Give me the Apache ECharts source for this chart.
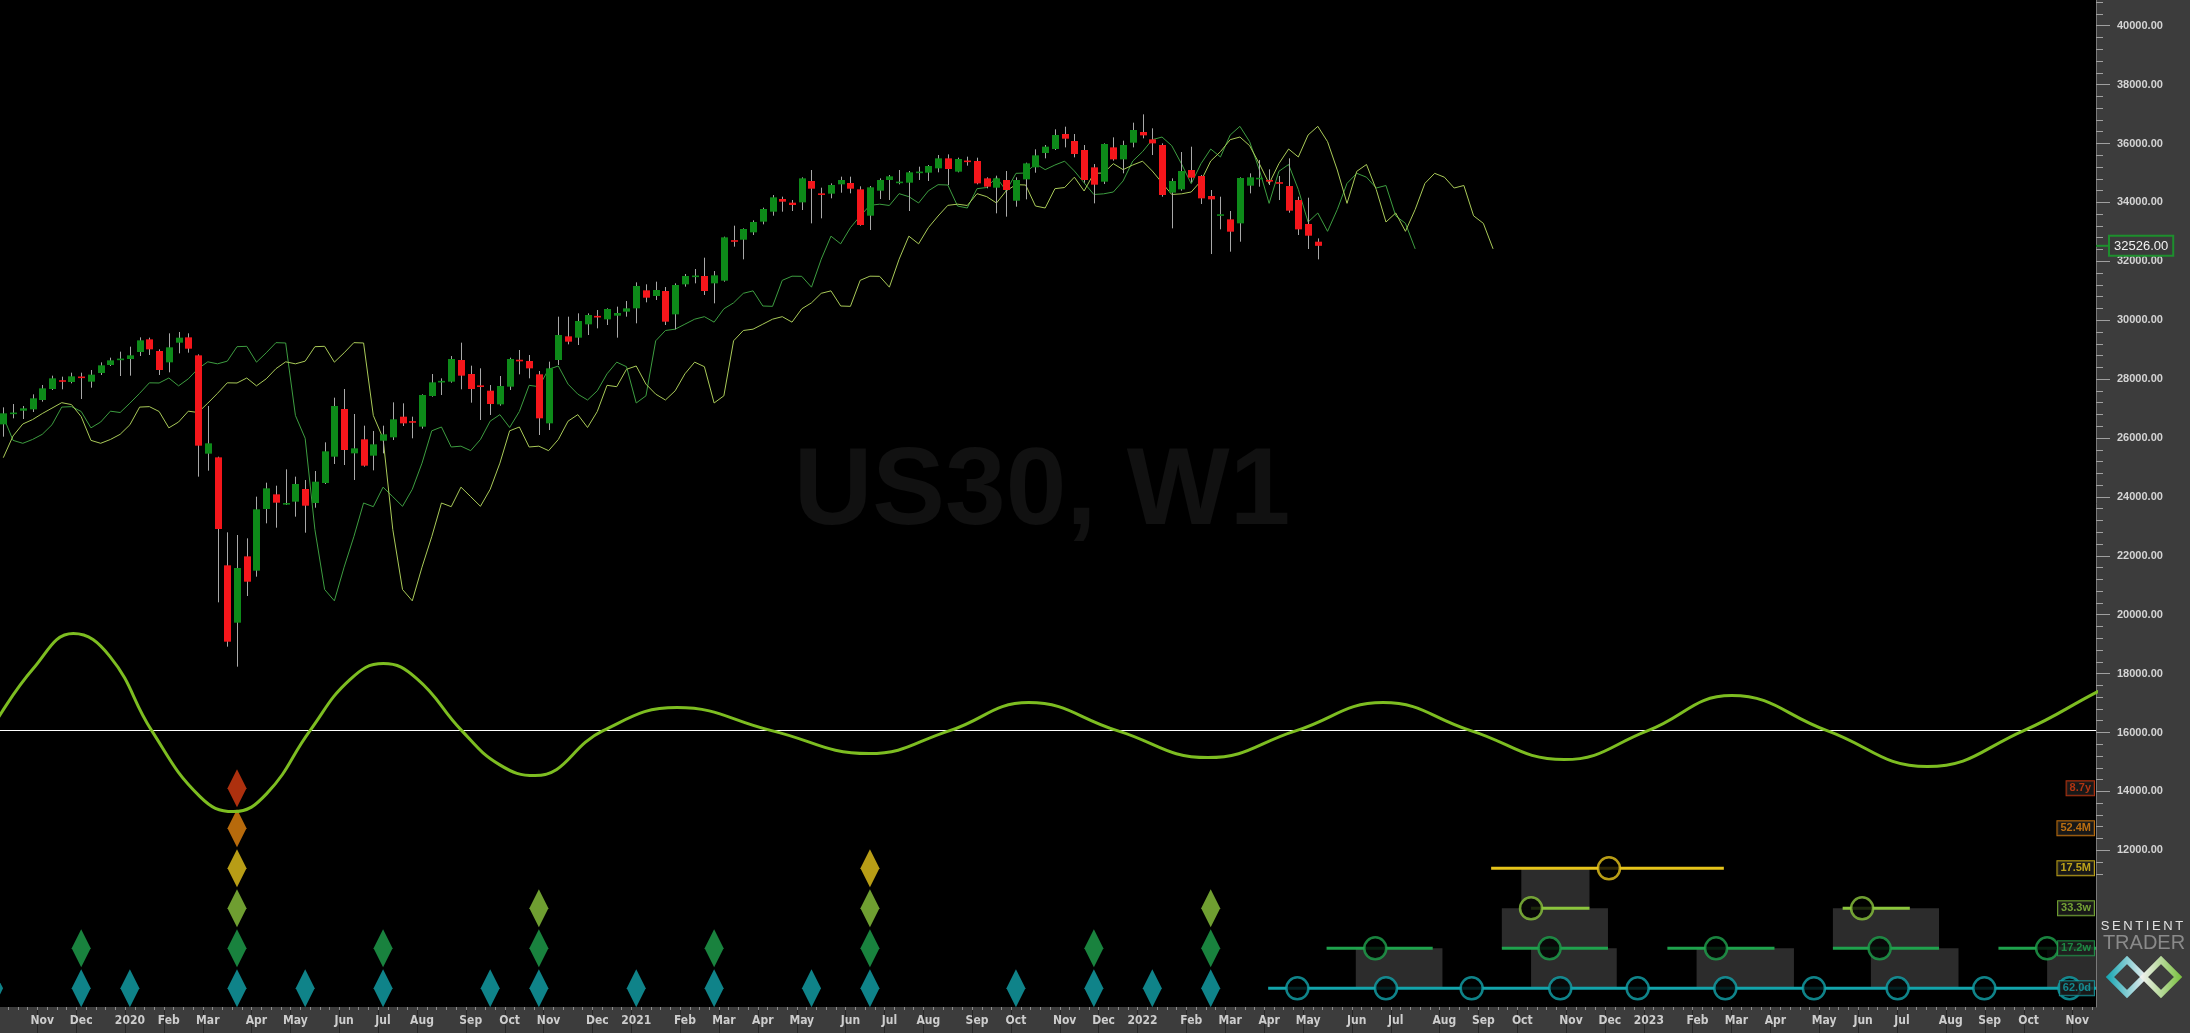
<!DOCTYPE html>
<html><head><meta charset="utf-8">
<script src="https://cdn.jsdelivr.net/npm/echarts@6/dist/echarts.min.js"></script>
<style>html,body{margin:0;padding:0;background:#3c3c3c;overflow:hidden}#c{width:2190px;height:1033px}</style>
</head><body><div id="c"></div>
<script>
// ---------- DATA ----------
// weekly bars, week index 0 = week of 2019-10-06
const tickWeeks = [4,8,13,17,21,26,30,35,39,43,48,52,56,61,65,70,74,78,82,87,91,95,100,104,109,113,117,122,126,130,134,139,143,148,152,156,161,165,169,174,178,182,187,191,195,200,204,208,213];
const tickLabels = ['Nov','Dec','2020','Feb','Mar','Apr','May','Jun','Jul','Aug','Sep','Oct','Nov','Dec','2021','Feb','Mar','Apr','May','Jun','Jul','Aug','Sep','Oct','Nov','Dec','2022','Feb','Mar','Apr','May','Jun','Jul','Aug','Sep','Oct','Nov','Dec','2023','Feb','Mar','Apr','May','Jun','Jul','Aug','Sep','Oct','Nov'];
const priceLabels = [12000,14000,16000,18000,20000,22000,24000,26000,28000,30000,32000,34000,36000,38000,40000];
const lastPrice = 32526;

const open = [26464,26830,26928,26973,27290,27664,27958,27902,28072,27913,
28207,28479,28660,28683,28920,29350,28954,28569,29237,29418,
28807,25468,25343,21676,19729,21981,21495,23589,24087,23759,
23838,24268,23793,24472,25366,26985,25479,25955,25400,25909,
26023,26724,26550,26385,27426,27890,27913,28649,28173,27770,
27607,27143,27743,28640,28614,28162,26498,28648,29452,29407,
29860,30130,30029,30154,30290,30403,31014,30822,30991,30199,
31218,31480,31501,31252,31342,32700,32734,32984,33346,33685,
34115,33991,34002,34727,34290,34297,34614,34659,34444,33549,
34398,34761,34670,34670,35010,35010,35157,35496,35044,35405,
35406,34817,34500,34761,34058,34783,35190,35677,35813,36322,
36085,35779,35190,34704,35869,35462,36028,36390,36141,35949,
34330,34443,35100,34896,34217,33560,33425,33289,34568,34800,
34740,34670,34556,34081,33266,32666];
const high = [27041,27154,27087,27483,27800,28117,28083,28218,28218,28309,
28569,28728,28932,29101,29418,29407,29011,29554,29600,29554,
28841,27087,25366,22797,22706,22593,24008,24483,24381,24936,
24687,24574,24879,25853,27370,27664,26815,26419,26238,26419,
27211,27177,26724,27483,28173,28026,28784,29237,28456,28366,
27800,28105,28727,28988,28818,28275,28592,30120,30120,30233,
30233,30346,30403,30460,30652,31286,31218,31308,31127,31252,
31569,31738,32123,31670,32836,33210,33119,33391,33821,34251,
34195,34082,34851,35100,34500,34647,34874,34874,34546,34557,
34817,34930,35100,35066,35213,35270,35610,35632,35519,35553,
35519,34851,34908,35066,34851,35349,35802,35949,36481,36571,
36322,35949,35303,36005,36209,36096,36707,36990,36515,36005,
34817,35711,35892,34930,34421,34194,33708,34851,34987,35439,
35122,34896,35496,34194,34160,32779];
const low = [26045,26668,26645,26883,27234,27630,27653,27856,27324,27709,
28139,28445,28105,28117,28784,28818,28139,28230,28875,28898,
24687,24891,20420,18914,18235,20635,21291,23102,22955,23725,
23329,22785,23634,24438,25117,25083,24574,25027,24902,25479,
25932,26408,25989,26317,27404,27460,27879,27653,27200,26611,
26781,27098,27630,28162,28026,26102,26271,28479,29180,29158,
29497,29724,29837,29407,30120,29894,30607,30686,29837,29690,
31139,31252,30856,30573,31308,32497,32067,32893,33255,33549,
33685,33708,33742,33289,33459,34138,34330,34308,33210,33063,
34115,34082,34614,33708,34761,34727,35021,34591,35021,35247,
34614,34478,33629,33516,33855,34104,35009,35496,35779,35869,
35530,34670,33968,34624,35417,34987,35869,36175,35609,34194,
33119,34398,34681,33945,32247,33085,32327,32666,34307,34534,
34590,34081,33651,32893,32417,32066];
const close = [26838,26845,27007,27347,27686,28026,27913,28094,28050,28151,
28468,28637,28680,28807,29316,29011,28309,29079,29407,29033,
25740,25819,22910,19084,21585,21121,23578,24291,23804,23770,
24438,23702,24517,25547,27087,25592,25649,25060,25785,26125,
26634,26498,26540,27460,27890,27935,28683,28117,27664,27750,
27155,27766,28682,28620,28365,26668,28365,29497,29271,29973,
30176,30110,30380,30244,30403,31161,30765,31025,29950,31195,
31501,31500,30991,31523,32814,32680,33097,33334,33776,34172,
34025,33912,34817,34466,34270,34591,34761,34466,33233,34512,
34761,34885,34690,35021,35030,35236,35496,35134,35474,35385,
34647,34534,34817,34421,34760,35326,35598,35892,36288,36164,
35643,34760,34602,35983,35462,35949,36458,36277,36005,34251,
34726,35066,34839,34138,34104,33580,33006,34828,34851,34820,
34730,34650,33719,33085,32870,32526];

// FLD lines (median price displaced forward); leading values come from bars before the window
const fastLead = [26725,25920,25820,25950,26125,26450,27050,27065,26900,26345];
const slowLead = [25332,26070,26475,26625,26830,27015,27200,27135,26725,25920,25820,25950,26125,26450,27050,27065,26900,26345];
const medianPrice = [26543,26911,26866,27183,27517,27874,27868,28037,27771,28009,
28354,28587,28519,28609,29101,29113,28575,28892,29238,29226,
26764,25989,22893,20856,20471,21614,22650,23793,23668,24331,
24008,23680,24257,25146,26244,26374,25695,25723,25570,25949,
26572,26793,26357,26900,27789,27743,28332,28445,27828,27489,
27291,27602,28179,28575,28422,27189,27432,29300,29650,29696,
29865,30035,30120,29934,30386,30590,30913,30997,30482,30471,
31354,31495,31490,31122,32072,32854,32593,33142,33538,33900,
33940,33895,34297,34195,33980,34393,34602,34591,33878,33810,
34466,34506,34857,34387,34987,34999,35316,35112,35270,35400,
35067,34665,34269,34291,34353,34727,35406,35723,36130,36220,
35926,35310,34636,35315,35813,35542,36288,36583,36062,35100,
33968,35055,35287,34438,33334,33640,33018,33759,34647,34987,
34856,34489,34574,33544,33289,32423];

// composite cycle wave (week index, amplitude)
const oscWeek = [-1,3.08,7.19,10.96,15.24,20.2,23.62,27.05,31.5,35.6,39.03,42.46,47.08,50.95,54.6,61.6,69.2,78.9,88.9,97.2,105.3,114.4,123.7,132.8,141.7,150.7,160.3,168.9,177.5,187.3,197.6,207.5,214.9,216];
const oscAmp  = [5,62,97,74,0,-66,-81,-63,0,51,67,52,0,-34,-45,0,23,0,-23,0,28,0,-27,0,28,0,-29,0,35,0,-36,0,38,43];

// cycle rows: 0 = 62.0d ... 5 = 8.7y
const rowNames = ['62.0d','17.2w','33.3w','17.5M','52.4M','8.7y'];
const rowDiamonds = [
  [-1,8,13,24,31,39,50,55,65,73,83,89,104,112,118,124],
  [8,24,39,55,73,89,112,124],
  [24,55,89,124],
  [24,89],
  [24],
  [24]
];
const rowCircles = [
  [132.9,142.0,150.8,159.9,167.85,176.85,185.95,194.55,203.45,212.2],
  [140.9,158.8,175.9,192.7,209.9],
  [156.9,190.9],
  [164.9],
  [],[]
];
const rowSpans = [
  [[129.9,216]],
  [[135.9,146.8],[153.9,164.8],[170.9,181.9],[187.9,198.8],[204.9,216]],
  [[156.9,162.9],[188.9,195.8]],
  [[152.8,176.7]],
  [],[]
];
const rowZones = [
  [],
  [[138.9,147.8],[156.9,165.7],[173.9,183.9],[191.8,200.8],[209.9,216]],
  [[153.9,164.8],[187.9,198.8]],
  [[155.9,162.9]],
  [],[]
];

// ---------- STYLE ----------
const rowColors = ['#13a4ab','#1fa24d','#8bc53d','#e6c41b','#e5850f','#d83c12'];
const upColor = '#0d8a19', downColor = '#f5161b', wickColor = '#a8a8a8';
const fastColor = '#3d9d40', slowColor = '#a9ca58', waveColor = '#7dbd21';

const xMin = -0.34, xMax = 214.92;
const pMin = 6679, pMax = 40873;
const oMin = -276.4, oMax = 730.6;
const rMin = -0.4675, rMax = 24.7075;

const labelMap = {};
tickWeeks.forEach((w,k)=>{labelMap[w]=tickLabels[k];});
const weekEdges = [];
for (let k = 0; k <= 216; k++) weekEdges.push(k - 0.5);
const minorTicks = [];
for (let v = 11200; v <= 40800; v += 400) minorTicks.push(v);

const candleData = open.map((o,i)=>[i,o,close[i],low[i],high[i]]);
const fldFast = fastLead.concat(medianPrice).map((v,i)=>[i,v]);
const fldSlow = slowLead.concat(medianPrice).map((v,i)=>[i,v]);
const waveData = oscWeek.map((w,k)=>[w,oscAmp[k]]);

const zoneData = [], spanData = [], circleData = [], diamondData = [], rowLabelData = [];
rowZones.forEach((list,r)=>list.forEach(z=>zoneData.push([z[0],z[1],r])));
rowSpans.forEach((list,r)=>list.forEach(s=>spanData.push([s[0],s[1],r])));
rowCircles.forEach((list,r)=>list.forEach(x=>circleData.push({value:[x,r],itemStyle:{borderColor:rowColors[r]}})));
rowDiamonds.forEach((list,r)=>list.forEach(x=>diamondData.push({value:[x,r],itemStyle:{color:rowColors[r]}})));
rowNames.forEach((n,r)=>rowLabelData.push({value:[xMax,r],label:{formatter:n,color:rowColors[r],borderColor:rowColors[r]}}));

function renderCandle(params, api){
  const i = api.value(0), o = api.value(1), c = api.value(2), l = api.value(3), h = api.value(4);
  const pt = api.coord([i, Math.max(o,c)]), pb = api.coord([i, Math.min(o,c)]);
  const ph = api.coord([i, h]), pl = api.coord([i, l]);
  const bw = 7;
  const xc = Math.round(pt[0]) + 0.5;
  let y0 = pt[1], bh = pb[1] - pt[1];
  if (bh < 1.6){ y0 = (pt[1]+pb[1])/2 - 0.8; bh = 1.6; }
  return {type:'group', children:[
    {type:'line', shape:{x1:xc,y1:ph[1],x2:xc,y2:pl[1]}, style:{stroke:wickColor,lineWidth:1}},
    {type:'rect', shape:{x:xc-bw/2,y:y0,width:bw,height:bh}, style:{fill: c>=o?upColor:downColor}}
  ]};
}
function renderZone(params, api){
  const a = api.coord([api.value(0), api.value(2)]);
  const b = api.coord([api.value(1), api.value(2)-1]);
  return {type:'rect', shape:{x:a[0],y:a[1],width:b[0]-a[0],height:b[1]-a[1]}, style:{fill:'#2c2c2c'}};
}
function renderSpan(params, api){
  const r = api.value(2);
  const a = api.coord([api.value(0), r]);
  const b = api.coord([api.value(1), r]);
  return {type:'line', shape:{x1:a[0],y1:a[1],x2:b[0],y2:b[1]}, style:{stroke:rowColors[r],lineWidth:3}};
}

const noZero = {onZero:false};
const chart = echarts.init(document.getElementById('c'), null, {renderer:'canvas'});
chart.setOption({
  animation:false,
  backgroundColor:'#3c3c3c',
  grid:{left:0, top:0, width:2096, height:1007, show:true, backgroundColor:'#000', borderWidth:0},
  xAxis:[
    {type:'value', min:xMin, max:xMax, position:'bottom', splitLine:{show:false}, axisLine:{show:false, onZero:false},
     axisTick:{show:true, length:26, lineStyle:{color:'#262626',width:1}, customValues: tickWeeks.map(w=>w-0.5)},
     axisLabel:{show:true, customValues: tickWeeks, formatter:(v)=>labelMap[Math.round(v)]||'', color:'#cdcdcd', fontSize:12, fontWeight:'bold',
       fontFamily:'"Liberation Sans Narrow","Arial Narrow","DejaVu Sans Condensed",sans-serif', margin:8}},
    {type:'value', min:xMin, max:xMax, position:'bottom', splitLine:{show:false}, axisLine:{show:false, onZero:false}, axisLabel:{show:false},
     axisTick:{show:true, length:3, lineStyle:{color:'#8c8c8c'}, customValues: weekEdges}}
  ],
  yAxis:[
    {type:'value', position:'right', min:pMin, max:pMax, splitLine:{show:false},
     axisLine:{show:true, onZero:false, lineStyle:{color:'#7a7a7a'}},
     axisTick:{show:true, length:14, lineStyle:{color:'#a0a0a0'}, customValues: priceLabels},
     axisLabel:{show:true, customValues: priceLabels, formatter:(v)=>Number(v).toFixed(2), color:'#d4d4d4', fontSize:11, fontWeight:'bold', fontFamily:'"Liberation Sans",Arial,sans-serif', margin:21}},
    {type:'value', position:'right', min:pMin, max:pMax, splitLine:{show:false}, axisLine:{show:false, onZero:false}, axisLabel:{show:false},
     axisTick:{show:true, length:7, lineStyle:{color:'#a0a0a0'}, customValues: minorTicks}},
    {type:'value', position:'right', show:false, min:oMin, max:oMax, axisLine:noZero},
    {type:'value', position:'right', show:false, min:rMin, max:rMax, axisLine:noZero}
  ],
  graphic:[
    {type:'text', x:1042, y:494, z:1, silent:true, style:{text:'US30, W1', font:'bold 109px "Liberation Sans", Arial, sans-serif', fill:'#111111', align:'center', verticalAlign:'middle'}},
    {type:'text', x:2142, y:926, z:20, silent:true, style:{text:'S\u2009E\u2009N\u2009T\u2009I\u2009E\u2009N\u2009T', font:'13px "Liberation Sans", Arial, sans-serif', fill:'#e2e2e2', align:'center', verticalAlign:'middle'}},
    {type:'text', x:2144, y:943, z:20, silent:true, style:{text:'TRADER', font:'20px "Liberation Sans", Arial, sans-serif', fill:'#8a8a8a', align:'center', verticalAlign:'middle'}},
    {type:'polygon', z:20, silent:true, shape:{points:[[2110,977],[2127,960],[2144,977],[2127,994]]},
     style:{fill:'none', stroke:new echarts.graphic.LinearGradient(0,0,1,0,[{offset:0,color:'#17a6b3'},{offset:1,color:'#f2f2f2'}]), lineWidth:6}},
    {type:'polygon', z:20, silent:true, shape:{points:[[2144,977],[2161,960],[2178,977],[2161,994]]},
     style:{fill:'none', stroke:new echarts.graphic.LinearGradient(0,0,1,0,[{offset:0,color:'#f2f2f2'},{offset:1,color:'#7cc142'}]), lineWidth:6}}
  ],
  series:[
    {type:'custom', name:'zones', xAxisIndex:0, yAxisIndex:3, z:2, clip:true, silent:true,
     renderItem:renderZone, encode:{x:[0,1], y:2}, data:zoneData},
    {type:'line', name:'FLD fast', xAxisIndex:0, yAxisIndex:0, z:3, data:fldFast, symbol:'none', silent:true, clip:false,
     lineStyle:{color:fastColor, width:1},
     markLine:{silent:true, symbol:['none','none'], lineStyle:{color:'rgba(0,0,0,0)', width:0}, data:[{yAxis:lastPrice}],
       label:{show:true, position:'end', distance:0, formatter:'{c|}{b|'+lastPrice.toFixed(2)+'}',
         rich:{c:{width:14, height:2, backgroundColor:'#1d8f2d'},
               b:{color:'#f2f2f2', fontSize:13, fontFamily:'"Liberation Sans",Arial,sans-serif', backgroundColor:'#3a3a3a', borderColor:'#1d8f2d', borderWidth:2, padding:[3,4,2,4]}}}}},
    {type:'line', name:'FLD slow', xAxisIndex:0, yAxisIndex:0, z:3, data:fldSlow, symbol:'none', silent:true,
     lineStyle:{color:slowColor, width:1}},
    {type:'custom', name:'US30', xAxisIndex:0, yAxisIndex:0, z:4, clip:true, silent:true,
     renderItem:renderCandle, encode:{x:0, y:[1,2,3,4]}, data:candleData},
    {type:'custom', name:'spans', xAxisIndex:0, yAxisIndex:3, z:5, clip:true, silent:true,
     renderItem:renderSpan, encode:{x:[0,1], y:2}, data:spanData},
    {type:'scatter', name:'diamonds', xAxisIndex:0, yAxisIndex:3, z:5, clip:false, silent:true,
     symbol:'diamond', symbolSize:[19,38], data:diamondData},
    {type:'scatter', name:'troughs', xAxisIndex:0, yAxisIndex:3, z:6, clip:true, silent:true,
     symbol:'circle', symbolSize:22, itemStyle:{color:'#000', borderWidth:2.5}, data:circleData},
    {type:'line', name:'wave', xAxisIndex:0, yAxisIndex:2, z:7, data:waveData, symbol:'none', smooth:0.45, clip:true, silent:true,
     lineStyle:{color:waveColor, width:3},
     markLine:{silent:true, symbol:['none','none'], label:{show:false}, lineStyle:{color:'#ffffff', width:1, type:'solid'}, data:[{yAxis:0}]}},
    {type:'scatter', name:'rowLabels', xAxisIndex:0, yAxisIndex:3, z:10, clip:false, silent:true,
     symbolSize:0, data:rowLabelData,
     label:{show:true, position:'left', distance:2, fontSize:11, fontWeight:'bold', fontFamily:'"Liberation Sans Narrow","Liberation Sans",Arial,sans-serif',
       backgroundColor:'#1e1e1e', borderWidth:1, padding:[2,3,1,3]}}
  ]
});
</script></body></html>
